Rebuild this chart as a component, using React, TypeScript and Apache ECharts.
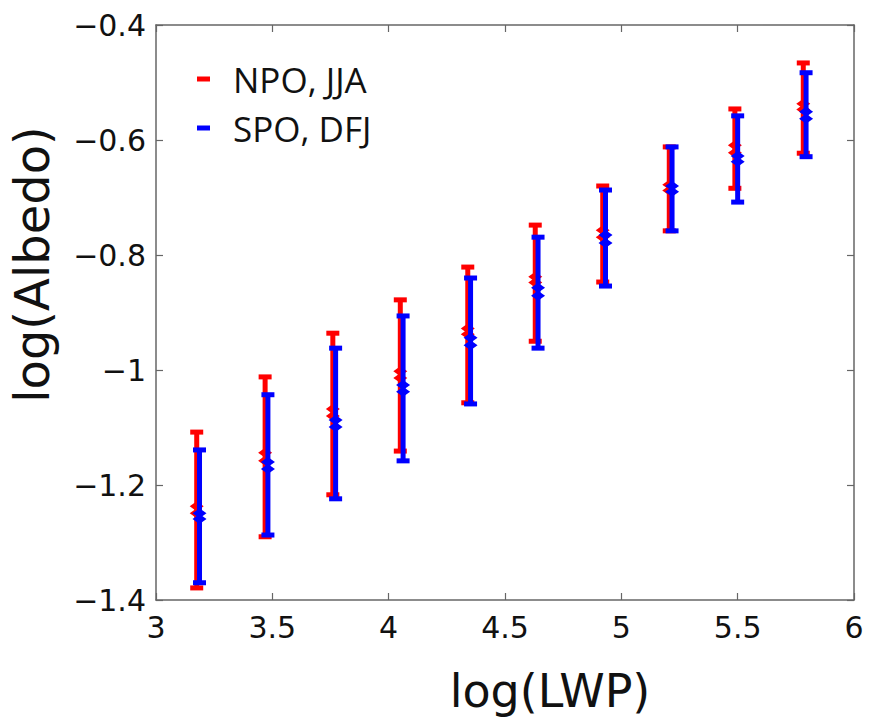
import React, { useEffect, useRef } from "react";
import * as echarts from "echarts";

// Bin positions, log(LWP)
const xNPO = [3.175, 3.469, 3.76, 4.05, 4.34, 4.63, 4.92, 5.206, 5.488, 5.782];
const xSPO = [3.187, 3.481, 3.772, 4.062, 4.352, 4.642, 4.932, 5.218, 5.5, 5.794];

// NPO, JJA
const npoTop = [-1.108, -1.012, -0.936, -0.878, -0.821, -0.748, -0.68, -0.612, -0.546, -0.466];
const npoBottom = [-1.379, -1.29, -1.217, -1.141, -1.057, -0.95, -0.847, -0.758, -0.684, -0.623];
const npoMark1 = [-1.237, -1.144, -1.068, -1.002, -0.928, -0.838, -0.757, -0.678, -0.609, -0.537];
const npoMark2 = [-1.249, -1.158, -1.08, -1.014, -0.938, -0.848, -0.769, -0.688, -0.622, -0.547];

// SPO, DFJ
const spoTop = [-1.139, -1.043, -0.962, -0.906, -0.84, -0.769, -0.687, -0.612, -0.558, -0.483];
const spoBottom = [-1.37, -1.287, -1.224, -1.158, -1.059, -0.962, -0.854, -0.758, -0.708, -0.629];
const spoMark1 = [-1.249, -1.16, -1.087, -1.026, -0.944, -0.857, -0.765, -0.68, -0.628, -0.551];
const spoMark2 = [-1.259, -1.172, -1.099, -1.038, -0.957, -0.871, -0.779, -0.69, -0.638, -0.563];

const xTicks = [3, 3.5, 4, 4.5, 5, 5.5, 6];
const yTicks = [-1.4, -1.2, -1, -0.8, -0.6, -0.4];

const fmtNum = (v: number) => {
  const r = Math.round(v * 10) / 10;
  return (r < 0 ? "\u2212" : "") + String(Math.abs(r));
};

function buildData(xs: number[], tops: number[], bottoms: number[], m1: number[], m2: number[]) {
  return xs.map((x, i) => [x, bottoms[i], tops[i], m1[i], m2[i]]);
}

function makeRenderItem(color: string) {
  return (params: any, api: any) => {
    const x = api.value(0);
    const lo = api.coord([x, api.value(1)]);
    const hi = api.coord([x, api.value(2)]);
    const c1 = api.coord([x, api.value(3)]);
    const c2 = api.coord([x, api.value(4)]);
    const capW = 13;
    const capH = 5;
    const dw = 7;
    const dh = 5;
    const diamond = (p: number[]) => ({
      type: "polygon",
      shape: {
        points: [
          [p[0] - dw, p[1]],
          [p[0], p[1] - dh],
          [p[0] + dw, p[1]],
          [p[0], p[1] + dh],
        ],
      },
      style: { fill: color },
    });
    return {
      type: "group",
      children: [
        {
          type: "line",
          shape: { x1: hi[0], y1: hi[1], x2: lo[0], y2: lo[1] },
          style: { stroke: color, lineWidth: 5 },
        },
        {
          type: "rect",
          shape: { x: hi[0] - capW / 2, y: hi[1] - capH / 2, width: capW, height: capH },
          style: { fill: color },
        },
        {
          type: "rect",
          shape: { x: lo[0] - capW / 2, y: lo[1] - capH / 2, width: capW, height: capH },
          style: { fill: color },
        },
        diamond(c1),
        diamond(c2),
      ],
    };
  };
}

export default function App() {
  const ref = useRef<HTMLDivElement>(null);
  useEffect(() => {
    if (!ref.current) return;
    const chart = echarts.init(ref.current, null, { renderer: "svg" });
    const frame = { show: true, lineStyle: { color: "#666", width: 1.5 } };
    const tickStyle = { show: true, inside: true, length: 7, lineStyle: { color: "#666", width: 1.2 } };
    const labelFont = "DejaVu Sans, sans-serif";
    chart.setOption({
      animation: false,
      backgroundColor: "#fff",
      grid: { left: 151, right: 17, top: 25, bottom: 126, containLabel: false },
      legend: {
        orient: "vertical",
        left: 192,
        top: 56,
        itemWidth: 13,
        itemHeight: 5,
        itemGap: 13,
        icon: "rect",
        textStyle: {
          fontSize: 35,
          lineHeight: 36,
          fontFamily: "Open Sans, sans-serif",
          color: "#111",
          padding: [0, 0, 0, 18],
        },
        data: [
          { name: "NPO, JJA", itemStyle: { color: "#ff0000" } },
          { name: "SPO, DFJ", itemStyle: { color: "#0000ff" } },
        ],
      },
      xAxis: [
        {
          type: "value",
          min: xTicks[0],
          max: xTicks[xTicks.length - 1],
          interval: 0.5,
          position: "bottom",
          axisLine: frame,
          axisTick: tickStyle,
          splitLine: { show: false },
          axisLabel: {
            fontSize: 30,
            fontFamily: labelFont,
            color: "#111",
            margin: 12,
            formatter: fmtNum,
          },
          name: "log(LWP)",
          nameLocation: "middle",
          nameGap: 68,
          nameTextStyle: {
            fontSize: 46,
            fontFamily: labelFont,
            color: "#111",
            padding: [0, 0, 0, 90],
          },
        },
        {
          type: "value",
          min: xTicks[0],
          max: xTicks[xTicks.length - 1],
          interval: 0.5,
          position: "top",
          axisLine: frame,
          axisTick: tickStyle,
          splitLine: { show: false },
          axisLabel: { show: false },
        },
      ],
      yAxis: [
        {
          type: "value",
          min: yTicks[0],
          max: yTicks[yTicks.length - 1],
          interval: 0.2,
          position: "left",
          axisLine: frame,
          axisTick: tickStyle,
          splitLine: { show: false },
          axisLabel: {
            fontSize: 30,
            fontFamily: labelFont,
            color: "#111",
            margin: 10,
            formatter: fmtNum,
          },
          name: "log(Albedo)",
          nameLocation: "middle",
          nameGap: 100,
          nameRotate: 90,
          nameTextStyle: {
            fontSize: 48,
            fontFamily: labelFont,
            color: "#111",
            padding: [0, 0, 0, 96],
          },
        },
        {
          type: "value",
          min: yTicks[0],
          max: yTicks[yTicks.length - 1],
          interval: 0.2,
          position: "right",
          axisLine: frame,
          axisTick: tickStyle,
          splitLine: { show: false },
          axisLabel: { show: false },
        },
      ],
      series: [
        {
          name: "NPO, JJA",
          type: "custom",
          xAxisIndex: 0,
          yAxisIndex: 0,
          itemStyle: { color: "#ff0000" },
          renderItem: makeRenderItem("#ff0000"),
          encode: { x: 0, y: [1, 2] },
          data: buildData(xNPO, npoTop, npoBottom, npoMark1, npoMark2),
        },
        {
          name: "SPO, DFJ",
          type: "custom",
          xAxisIndex: 0,
          yAxisIndex: 0,
          itemStyle: { color: "#0000ff" },
          renderItem: makeRenderItem("#0000ff"),
          encode: { x: 0, y: [1, 2] },
          data: buildData(xSPO, spoTop, spoBottom, spoMark1, spoMark2),
        },
      ],
    });
    return () => chart.dispose();
  }, []);
  return <div ref={ref} style={{ width: 871, height: 726, margin: -8 }} />;
}
